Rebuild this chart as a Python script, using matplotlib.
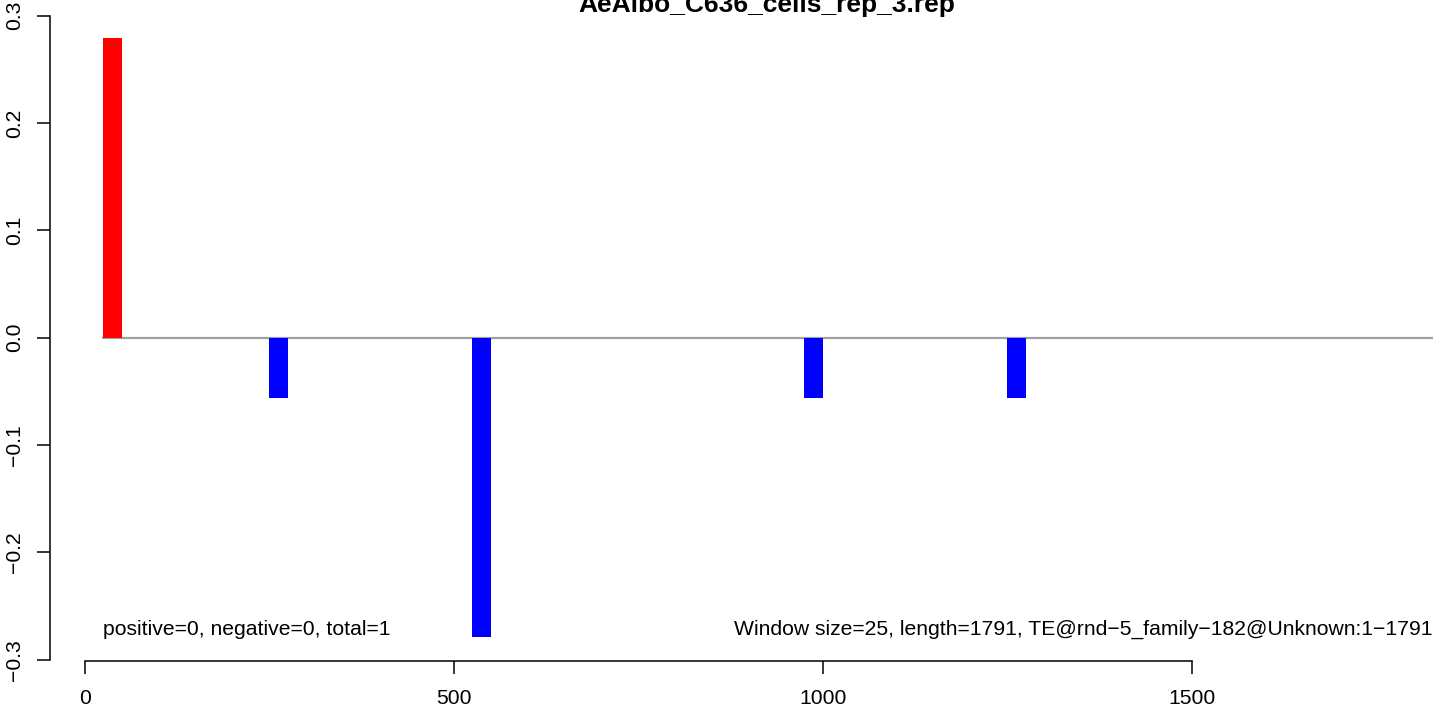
import matplotlib
matplotlib.use('Agg')
import matplotlib.pyplot as plt

# window start positions and scores (window size 25)
win_start = [25, 250, 525, 975, 1250]
win_score = [0.279, -0.0558, -0.279, -0.0558, -0.0558]
win_size = 25
seq_length = 1791

title = 'AeAlbo_C636_cells_rep_3.rep'
left_note = 'positive=0, negative=0, total=1'
right_note = 'Window size=25, length=1791, TE@rnd\u22125_family\u2212182@Unknown:1\u22121791'
x_ticks = [0, 500, 1000, 1500]
y_ticks = [-0.3, -0.2, -0.1, 0.0, 0.1, 0.2, 0.3]


def draw():
    plt.rcParams['font.family'] = ['Liberation Sans', 'DejaVu Sans']
    W, H = 1444, 711
    fs = 15.2
    fig = plt.figure(figsize=(W / 100, H / 100), dpi=100)
    # plot region in pixels: left 50, right 1432.7, top 15.7, bottom 660.7
    ax = fig.add_axes([50 / W, (H - 660.7) / H, (1432.7 - 50) / W, (660.7 - 15.7) / H])

    colors = ['#FF0000' if v > 0 else '#0000FF' for v in win_score]
    ax.bar(win_start, win_score, width=win_size, align='edge', color=colors, linewidth=0)
    ax.plot([win_start[0], 1826.7], [0, 0], color='#A0A0A0', lw=1.6, zorder=0)

    ax.set_xlim(-47.4, 1826.7)
    ax.set_ylim(-0.301, 0.3)

    for s in ['top', 'right']:
        ax.spines[s].set_visible(False)
    ax.spines['left'].set_bounds(-0.3, 0.3)
    ax.spines['bottom'].set_bounds(0, 1500)
    ax.spines['left'].set_linewidth(1.1)
    ax.spines['bottom'].set_linewidth(1.1)

    ax.set_xticks(x_ticks)
    ax.set_xticklabels([str(t) for t in x_ticks])
    ax.set_yticks(y_ticks)
    ax.set_yticklabels(['\u22120.3', '\u22120.2', '\u22120.1', '0.0', '0.1', '0.2', '0.3'],
                       rotation=90, va='center')
    ax.tick_params(axis='x', length=9, width=1.1, pad=11.5, labelsize=fs)
    ax.tick_params(axis='y', length=9.5, width=1.1, pad=9, labelsize=fs)

    ax.text(win_start[0], -0.2717, left_note, fontsize=fs, ha='left', va='center')
    ax.text(1826.7, -0.2717, right_note, fontsize=fs, ha='right', va='center')

    fig.text(767 / W, 1 - 12 / H, title, ha='center', va='baseline',
             fontsize=19, fontweight='bold')

    fig.savefig('out.png', dpi=100)


def main():
    draw()


if __name__ == '__main__':
    main()
